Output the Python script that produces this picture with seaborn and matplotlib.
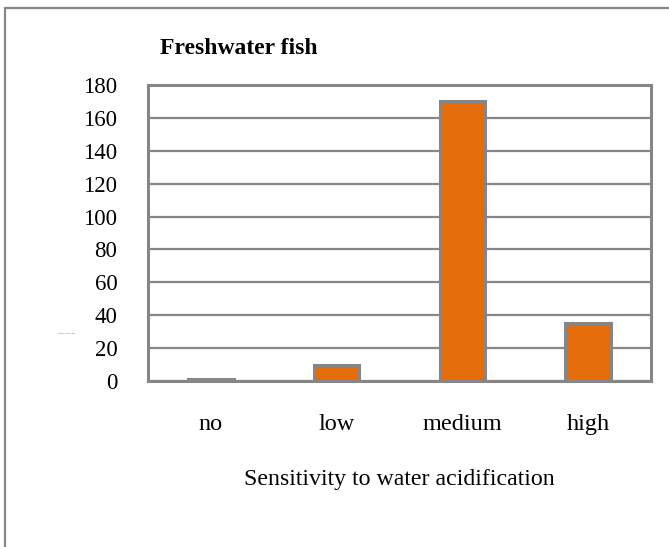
import matplotlib
matplotlib.use("Agg")
import matplotlib.pyplot as plt
from matplotlib.patches import Rectangle
import seaborn as sns
import pandas as pd

# values
categories = ["no", "low", "medium", "high"]
species = [1, 10, 170, 35]
y_ticks = [0, 20, 40, 60, 80, 100, 120, 140, 160, 180]

title = "Freshwater fish"
x_label = "Sensitivity to water acidification"
y_label = "Number of species"

bar_color = "#E46C0A"
grey = "#868686"

sns.set_style("white")
plt.rcParams["font.family"] = ["Liberation Serif", "DejaVu Serif"]
plt.rcParams["text.color"] = "black"
plt.rcParams["axes.labelcolor"] = "black"

df = pd.DataFrame({"sensitivity": categories, "species": species})

W, H = 669, 547
fig = plt.figure(figsize=(W / 100, H / 100), dpi=100)
ax = fig.add_axes([148 / W, 1 - 381 / H, (651 - 148) / W, (381 - 85) / H])

ax.set_axisbelow(True)
ax.grid(axis="y", color=grey, linewidth=1.6)
sns.barplot(data=df, x="sensitivity", y="species", ax=ax, color=bar_color,
            edgecolor=grey, linewidth=2.2, width=0.36, saturation=1)

ax.set_ylim(0, 180)
ax.set_yticks(y_ticks)
ax.set_xlim(-0.5, 3.5)
for s in ax.spines.values():
    s.set_color(grey)
    s.set_linewidth(2.2)
ax.tick_params(axis="both", length=0, colors="black", labelcolor="black")
ax.tick_params(axis="y", pad=22, labelsize=16.5)
ax.tick_params(axis="x", pad=24, labelsize=17.5)
ax.set_ylabel("")
ax.set_xlabel(x_label, fontsize=17.2, labelpad=24, color="black")

fig.text(160 / W, 1 - 49 / H, title, fontsize=17, fontweight="bold",
         ha="left", va="center", color="black")
# tiny, barely visible axis title in the original
fig.text(58 / W, 1 - 333 / H, y_label, fontsize=1.6, color="#555555",
         ha="left", va="center")

# outer chart frame, cut off at right and bottom
fig.patches.append(Rectangle((5 / W, -0.1), 1.2, (1 - 8 / H) + 0.1,
                             transform=fig.transFigure, fill=False,
                             edgecolor=grey, linewidth=1.6))

fig.savefig("out.png", dpi=100)
